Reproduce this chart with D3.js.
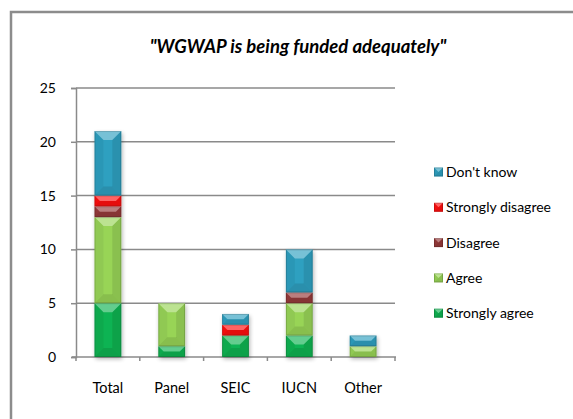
<!DOCTYPE html>
<html><head><meta charset="utf-8">
<script src="https://cdn.jsdelivr.net/npm/d3@7"></script>
<style>
html,body{margin:0;padding:0;background:#fff;}
svg{display:block;}
text{font-family:Lato,"Open Sans",sans-serif;fill:#000;}
</style></head>
<body>
<svg id="chart" width="573" height="419"></svg>
<script>
const title = "\"WGWAP is being funded adequately\"";
const categories = ["Total", "Panel", "SEIC", "IUCN", "Other"];
const seriesNames = ["Strongly agree", "Agree", "Disagree", "Strongly disagree", "Don't know"];
const stronglyAgree    = [5, 1, 2, 2, 0];
const agree            = [8, 4, 0, 3, 1];
const disagree         = [1, 0, 0, 1, 0];
const stronglyDisagree = [1, 0, 1, 0, 0];
const dontKnow         = [6, 0, 1, 4, 1];
const yTicks = [0, 5, 10, 15, 20, 25];
const colors = ["#10b352", "#98d457", "#963a3a", "#ff1010", "#2fa0c0"];

const seriesValues = [stronglyAgree, agree, disagree, stronglyDisagree, dontKnow];
const rows = categories.map((c, i) => {
  const r = {cat: c};
  seriesNames.forEach((s, k) => r[s] = seriesValues[k][i]);
  return r;
});
const stack = d3.stack().keys(seriesNames)(rows);

const svg = d3.select("#chart");
// frame
svg.append("path").attr("d", "M11,430 L11,12 L580,12")
  .attr("fill", "none").attr("stroke", "#8c8c8c").attr("stroke-width", 2.5);

svg.append("text").attr("x", 298).attr("y", 53).attr("text-anchor", "middle")
  .style("font-weight", "bold").style("font-style", "italic").style("font-size", "18.5px")
  .text(title);

const x = d3.scaleBand().domain(categories).range([76, 395]).paddingInner(0.58).paddingOuter(0.29);
const xb = d3.scaleBand().domain(categories).range([76, 395]);
const y = d3.scaleLinear().domain([0, 25]).range([357, 88]);

const defs = svg.append("defs");
const f = defs.append("filter").attr("id", "sh").attr("x", "-30%").attr("y", "-30%").attr("width", "160%").attr("height", "160%");
f.append("feGaussianBlur").attr("in", "SourceAlpha").attr("stdDeviation", 2);
f.append("feOffset").attr("dx", 1).attr("dy", 2).attr("result", "b");
f.append("feComponentTransfer").append("feFuncA").attr("type", "linear").attr("slope", 0.3);
const m = f.append("feMerge"); m.append("feMergeNode"); m.append("feMergeNode").attr("in", "SourceGraphic");

// grid
svg.append("g").selectAll("line").data(yTicks.filter(t => t > 0)).join("line")
  .attr("x1", 76).attr("x2", 395).attr("y1", d => y(d)).attr("y2", d => y(d))
  .attr("stroke", "#8a8a8a").attr("stroke-width", 1.5);

// y axis
const ya = svg.append("g").attr("transform", "translate(76,0)")
  .call(d3.axisLeft(y).tickValues(yTicks).tickSize(5).tickPadding(15));
ya.select(".domain").attr("stroke", "#8a8a8a").attr("stroke-width", 1.5);
ya.selectAll(".tick line").attr("stroke", "#8a8a8a").attr("stroke-width", 1.5);
ya.selectAll("text").style("font-size", "14px").style("font-family", "Lato,sans-serif");

// x axis
const xa = svg.append("g").attr("transform", "translate(0,357)");
xa.append("line").attr("x1", 72).attr("x2", 396).attr("y1", 0).attr("y2", 0).attr("stroke", "#8a8a8a").attr("stroke-width", 1.5);
const xt = categories.map(c => xb(c)).concat([395]);
xa.selectAll("line.t").data(xt).join("line").attr("class", "t")
  .attr("x1", d => d).attr("x2", d => d).attr("y1", 0).attr("y2", 4)
  .attr("stroke", "#8a8a8a").attr("stroke-width", 1.5);
xa.selectAll("text").data(categories).join("text")
  .attr("x", d => xb(d) + xb.bandwidth() / 2).attr("y", 36).attr("text-anchor", "middle")
  .style("font-size", "14.5px").text(d => d);

function bevel(g, x0, x1, y0, y1, col) {
  const w = x1 - x0, h = y1 - y0;
  if (h <= 0) return;
  const b = Math.min(9, h / 2, w / 2);
  g.append("rect").attr("x", x0).attr("y", y0).attr("width", w).attr("height", h).attr("fill", col);
  const faces = [
    [[x0, y0], [x1, y0], [x1 - b, y0 + b], [x0 + b, y0 + b], "#fff", 0.35],
    [[x0, y1], [x1, y1], [x1 - b, y1 - b], [x0 + b, y1 - b], "#000", 0.1],
    [[x0, y0], [x0 + b, y0 + b], [x0 + b, y1 - b], [x0, y1], "#000", 0.05],
    [[x1, y0], [x1 - b, y0 + b], [x1 - b, y1 - b], [x1, y1], "#000", 0.09]
  ];
  faces.forEach(fc => {
    g.append("polygon").attr("points", fc.slice(0, 4).map(p => p.join(",")).join(" "))
      .attr("fill", fc[4]).attr("fill-opacity", fc[5]);
  });
  g.append("rect").attr("x", x0 + 0.5).attr("y", y0 + 0.5).attr("width", w - 1).attr("height", Math.max(0, h - 1))
    .attr("fill", "none").attr("stroke", "#000").attr("stroke-opacity", 0.15);
}

const bars = svg.append("g");
categories.forEach((c, i) => {
  const g = bars.append("g").attr("filter", "url(#sh)");
  stack.forEach((s, k) => {
    const d = s[i];
    bevel(g, x(c), x(c) + x.bandwidth(), y(d[1]), y(d[0]), colors[k]);
  });
});

// legend
const legendOrder = [4, 3, 2, 1, 0];
const lg = svg.append("g");
legendOrder.forEach((k, j) => {
  const cy = 172 + j * 35.3;
  const g = lg.append("g");
  bevel(g, 434, 443, cy - 4.5, cy + 4.5, colors[k]);
  lg.append("text").attr("x", 446).attr("y", cy + 5).style("font-size", "14px").text(seriesNames[k]);
});
</script>
</body></html>
